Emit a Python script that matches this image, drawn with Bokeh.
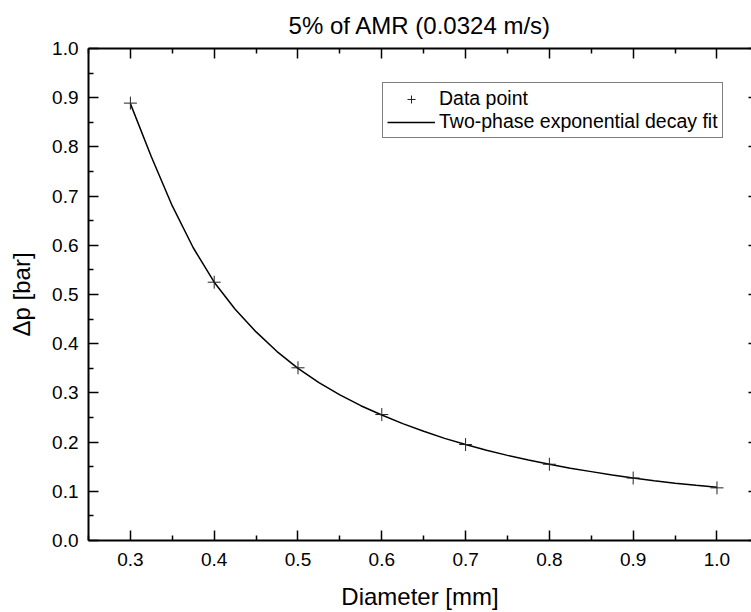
from bokeh.plotting import figure
from bokeh.models import (Range1d, LinearAxis, FixedTicker, PrintfTickFormatter,
                          Legend, LegendItem)
from bokeh.embed import file_html
from bokeh.resources import INLINE

# ---- data ----
diameter = [0.3, 0.4, 0.5, 0.6, 0.7, 0.8, 0.9, 1.0]
delta_p = [0.889, 0.525, 0.351, 0.256, 0.195, 0.155, 0.127, 0.107]

fit_x = [0.300, 0.325, 0.350, 0.375, 0.400, 0.425, 0.450, 0.475, 0.500,
         0.525, 0.550, 0.575, 0.600, 0.625, 0.650, 0.675, 0.700, 0.725,
         0.750, 0.775, 0.800, 0.825, 0.850, 0.875, 0.900, 0.925, 0.950,
         0.975, 1.000]
fit_y = [0.888, 0.780, 0.680, 0.595, 0.525, 0.470, 0.424, 0.384, 0.350,
         0.321, 0.296, 0.274, 0.255, 0.2375, 0.222, 0.2076, 0.195, 0.1835,
         0.173, 0.1636, 0.155, 0.147, 0.140, 0.133, 0.127, 0.1216, 0.1166,
         0.1121, 0.108]

x_ticks = [0.3, 0.4, 0.5, 0.6, 0.7, 0.8, 0.9, 1.0]
x_minor = [0.25, 0.35, 0.45, 0.55, 0.65, 0.75, 0.85, 0.95, 1.05]
y_ticks = [0.0, 0.1, 0.2, 0.3, 0.4, 0.5, 0.6, 0.7, 0.8, 0.9, 1.0]
y_minor = [0.05, 0.15, 0.25, 0.35, 0.45, 0.55, 0.65, 0.75, 0.85, 0.95]

FONT = "Liberation Sans"

p = figure(width=751, height=612, output_backend="svg", toolbar_location=None,
           x_range=Range1d(0.25, 1.0412), y_range=Range1d(0.0, 1.0),
           min_border_left=88, min_border_right=0, min_border_top=0,
           min_border_bottom=72, title="5% of AMR (0.0324 m/s)")
p.title.align = "center"
p.title.text_font = FONT
p.title.text_font_size = "24px"
p.title.text_font_style = "normal"
p.title.text_color = "black"
p.title.standoff = 19

p.xgrid.visible = False
p.ygrid.visible = False
p.outline_line_color = None
p.background_fill_color = "white"
p.border_fill_color = "white"

def style_axis(ax, ticks, minor):
    ax.ticker = FixedTicker(ticks=ticks, minor_ticks=minor)
    ax.formatter = PrintfTickFormatter(format="%.1f")
    ax.axis_line_width = 2
    ax.axis_line_color = "black"
    ax.major_tick_in = 10
    ax.major_tick_out = 0
    ax.minor_tick_in = 5
    ax.minor_tick_out = 0
    ax.major_tick_line_width = 1.5
    ax.minor_tick_line_width = 1.5
    ax.major_tick_line_color = "black"
    ax.minor_tick_line_color = "black"
    ax.major_label_text_font = FONT
    ax.major_label_text_font_size = "19px"
    ax.major_label_text_color = "black"
    ax.axis_label_text_font = FONT
    ax.axis_label_text_font_size = "24px"
    ax.axis_label_text_font_style = "normal"
    ax.axis_label_text_color = "black"

def tick_only_axis(positions, length, line=True):
    # an axis without labels: its ticks are given as "minor" ticks only
    ax = LinearAxis(ticker=FixedTicker(ticks=[], minor_ticks=positions))
    ax.major_tick_in = 0
    ax.major_tick_out = 0
    ax.minor_tick_in = length
    ax.minor_tick_out = 0
    ax.minor_tick_line_width = 1.5
    ax.minor_tick_line_color = "black"
    ax.major_label_standoff = 0
    ax.axis_line_width = 2
    ax.axis_line_color = "black" if line else None
    return ax

xa = p.xaxis[0]
style_axis(xa, x_ticks, x_minor)
xa.major_label_standoff = 12
xa.axis_label = "Diameter [mm]"
xa.axis_label_standoff = 14

ya = p.yaxis[0]
style_axis(ya, y_ticks, y_minor)
ya.major_label_standoff = 10
ya.axis_label = "Δp [bar]"
ya.axis_label_standoff = 14

p.add_layout(tick_only_axis(x_ticks, 10), "above")
p.add_layout(tick_only_axis(x_minor, 5, line=False), "above")
p.add_layout(tick_only_axis(y_ticks, 3, line=False), "right")

line_r = p.line(fit_x, fit_y, line_color="black", line_width=1.5)
pts_r = p.scatter(diameter, delta_p, marker="cross", size=13,
                  line_color="#222222", line_width=1)

legend = Legend(items=[LegendItem(label="Data point", renderers=[pts_r]),
                       LegendItem(label="Two-phase exponential decay fit",
                                  renderers=[line_r])],
                location=(294, 402))
legend.label_text_font = FONT
legend.label_text_font_size = "19.5px"
legend.label_text_color = "black"
legend.border_line_color = "black"
legend.border_line_width = 1
legend.background_fill_color = "white"
legend.background_fill_alpha = 1
legend.padding = 4
legend.spacing = 0
legend.margin = 0
legend.glyph_width = 48
legend.glyph_height = 20
legend.label_height = 20
legend.label_standoff = 4
p.add_layout(legend, "center")

open("out.html", "w").write(file_html(p, INLINE))
